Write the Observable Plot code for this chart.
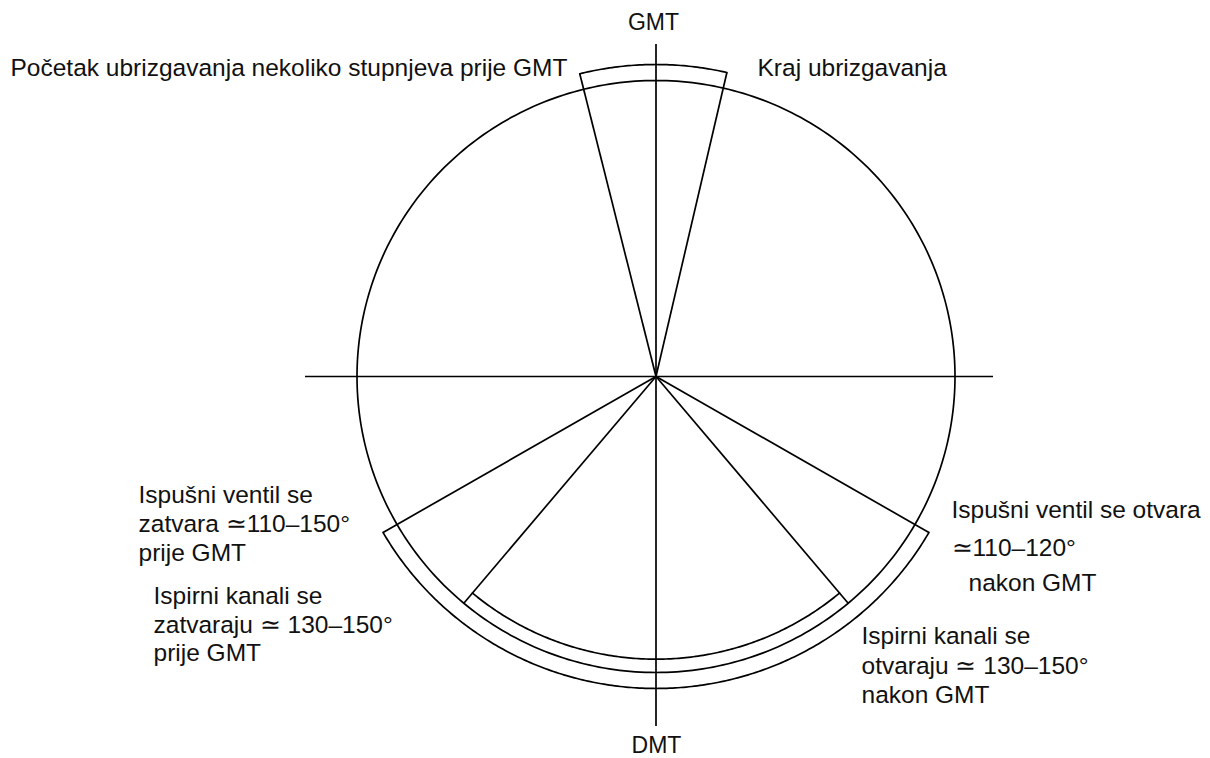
<!DOCTYPE html>
<html>
<head>
<meta charset="utf-8">
<script src="https://cdn.jsdelivr.net/npm/d3@7"></script>
<script src="https://cdn.jsdelivr.net/npm/@observablehq/plot@0.6"></script>
<style>
  html, body { margin: 0; padding: 0; background: #fff; }
  #chart svg { display: block; }
</style>
</head>
<body>
<div id="chart"></div>
<script>
// ---- Data (crank angle in degrees, measured clockwise from GMT) ----
const phaseNames  = ["Ubrizgavanje", "Ispušni ventil otvoren", "Ispirni kanali otvoreni"];
const phaseStart  = [-14, 120, 140];   // start angle (deg after GMT)
const phaseEnd    = [13, 240, 220];    // end angle (deg after GMT)
const phaseRing   = ["outer", "outer", "inner"];

const deadCentres = ["GMT", "DMT"];

const labelTexts = [
  "Početak ubrizgavanja nekoliko stupnjeva prije GMT",
  "Kraj ubrizgavanja",
  "Ispušni ventil se otvara",
  "≃110–120°",
  "nakon GMT",
  "Ispirni kanali se",
  "otvaraju ≃ 130–150°",
  "nakon GMT",
  "Ispušni ventil se",
  "zatvara ≃110–150°",
  "prije GMT",
  "Ispirni kanali se",
  "zatvaraju ≃ 130–150°",
  "prije GMT"
];

// ---- Layout ----
const W = 1210, H = 758;
const cx = 655.5, cy = 376, rx = 299, ry = 296;
const ringR = {circle: 1, outer: 1.054, inner: 0.955};
const rad = d => d * Math.PI / 180;
const px = p => (p - cx) / rx;      // pixel -> unit (x)
const py = p => (cy - p) / ry;      // pixel -> unit (y)

// label anchors (left x, baseline y) in pixels
const labelAnchor = [
  [10, 75], [757, 75],
  [951, 517], [951, 555], [968, 590],
  [861, 643], [861, 673], [861, 702],
  [138, 502], [138, 531], [138, 560],
  [153, 603], [153, 632], [153, 660]
];
const labels = labelTexts.map((t, i) => ({text: t, x: px(labelAnchor[i][0]), y: py(labelAnchor[i][1])}));
const centreLabels = [
  {text: deadCentres[0], x: px(653), y: py(29)},
  {text: deadCentres[1], x: px(656), y: py(752)}
];

// circle
const circlePts = d3.range(0, 361, 1).map(a => ({x: Math.sin(rad(a)), y: Math.cos(rad(a))}));

// arcs of the phases
const arcPts = [];
phaseNames.forEach((name, i) => {
  const r = ringR[phaseRing[i]];
  for (let a = phaseStart[i]; a <= phaseEnd[i] + 1e-9; a += 0.5) {
    arcPts.push({phase: name, x: r * Math.sin(rad(a)), y: r * Math.cos(rad(a))});
  }
});

// rays from centre to the ends of each phase
const rays = [];
phaseNames.forEach((name, i) => {
  const r = phaseRing[i] === "outer" ? ringR.outer : ringR.circle;
  [phaseStart[i], phaseEnd[i]].forEach(a => {
    rays.push({x2: r * Math.sin(rad(a)), y2: r * Math.cos(rad(a))});
  });
});

const stroke = "#000";
const sw = 1.7;

const chart = Plot.plot({
  width: W,
  height: H,
  margin: 0,
  x: {domain: [px(0), px(W)], range: [0, W], axis: null},
  y: {domain: [py(H), py(0)], range: [H, 0], axis: null},
  style: {fontFamily: "'Liberation Sans', Arial, sans-serif", background: "#fff", color: "#111"},
  marks: [
    Plot.ruleY([0], {x1: px(305), x2: px(993), stroke, strokeWidth: sw}),
    Plot.ruleX([0], {y1: py(44), y2: py(726), stroke, strokeWidth: sw}),
    Plot.line(circlePts, {x: "x", y: "y", stroke, strokeWidth: sw}),
    Plot.line(arcPts, {x: "x", y: "y", z: "phase", stroke, strokeWidth: sw}),
    Plot.link(rays, {x1: 0, y1: 0, x2: "x2", y2: "y2", stroke, strokeWidth: sw}),
    Plot.text(labels, {x: "x", y: "y", text: "text", textAnchor: "start", lineAnchor: "bottom", fontSize: 24.5, fill: "#111"}),
    Plot.text(centreLabels, {x: "x", y: "y", text: "text", textAnchor: "middle", lineAnchor: "bottom", fontSize: 23, fill: "#111"})
  ]
});
document.getElementById("chart").appendChild(chart);
</script>
</body>
</html>
